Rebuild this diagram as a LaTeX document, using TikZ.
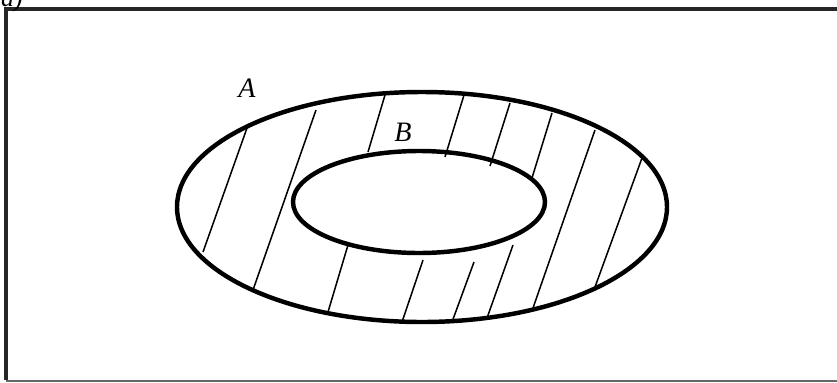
\documentclass[tikz,border=0pt]{standalone}
\usepackage{fontspec}
\setmainfont{Liberation Serif}
\usetikzlibrary{positioning}

\begin{document}
\begin{tikzpicture}[
        x = 0.03cm, y = -0.03cm,
        set/.style   = {draw = black, line width = 3.8pt},
        frame/.style = {draw = black!85, line width = 3.6pt},
        hatch/.style = {draw = black, line width = 1.3pt},
        setlabel/.style = {font = \fontsize{24}{28}\selectfont\itshape, inner sep = 0pt}
    ]

      \useasboundingbox (0,0) rectangle (837,382);

      % frame of the universal set
      \draw[frame] (845,9) -- (6,9) -- (6,380);
      \draw[draw = black!60, line width = 1pt] (6,381) -- (845,381);
      \node[anchor = base west, font = \fontsize{22}{26}\selectfont\itshape] (part) at (-3,6) {a)};

      % the two sets
      \draw[set] (422,207) ellipse [x radius = 245, y radius = 115];
      \draw[set] (419,202) ellipse [x radius = 126, y radius = 51];

      \node[setlabel] (A) at (247,88)  {A};
      \node[setlabel] (B) at (403,132) {B};

      % shading of A - B
      \foreach \xa/\ya/\xb/\yb in {247/128/203/252, 316/110/253/290,
                                   385/95/368/152,  348/245/328/312,
                                   464/95/445/157,  423/260/402/322,
                                   510/103/490/166, 474/262/452/322,
                                   552/113/532/178, 513/245/487/318,
                                   595/130/533/308, 642/158/595/287}
          \draw[hatch] (\xa,\ya) -- (\xb,\yb);

\end{tikzpicture}
\end{document}
